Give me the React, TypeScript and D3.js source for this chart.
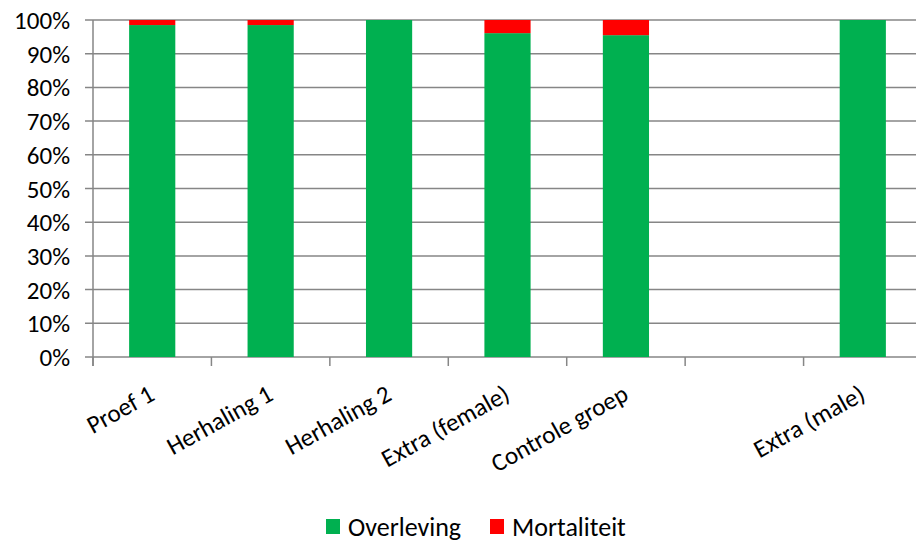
import React from "react";
import * as d3 from "d3";

const categories = ["Proef 1", "Herhaling 1", "Herhaling 2", "Extra (female)", "Controle groep", "", "Extra (male)"];
const overleving = [98.5, 98.5, 100, 96.1, 95.5, 0, 100];
const mortaliteit = [1.5, 1.5, 0, 3.9, 4.5, 0, 0];
const yTicks = [0, 10, 20, 30, 40, 50, 60, 70, 80, 90, 100];

const W = 916;
const H = 542;
const margin = { left: 93, top: 20, right: -6, bottom: 185 };
const FONT = "Carlito, Calibri, Lato, 'Open Sans', sans-serif";
const FS = 25;
const GREEN = "#00b050";
const RED = "#ff0000";
const GRID = "#868686";

export default function App() {
  const x = d3
    .scaleBand<number>()
    .domain(d3.range(categories.length))
    .range([margin.left, W - margin.right])
    .paddingInner(0.61)
    .paddingOuter(0.305);
  const step = (W - margin.right - margin.left) / categories.length;
  const y = d3.scaleLinear().domain([0, 100]).range([H - margin.bottom, margin.top]);

  const series = [
    { name: "Overleving", color: GREEN, values: overleving },
    { name: "Mortaliteit", color: RED, values: mortaliteit },
  ];
  const stacked = categories.map((_, i) => {
    let acc = 0;
    return series.map((s) => {
      const y0 = acc;
      acc += s.values[i];
      return { y0, y1: acc, color: s.color };
    });
  });

  return (
    <svg width={W} height={H} style={{ position: "absolute", left: 0, top: 0 }}>
      <rect width={W} height={H} fill="#fff" />
      {yTicks.map((t) => (
        <g key={t}>
          <line x1={margin.left - 8} x2={W} y1={y(t)} y2={y(t)} stroke={GRID} strokeWidth={1.5} />
          <text
            x={70}
            y={y(t) + 9}
            textAnchor="end"
            fontFamily={FONT}
            fontSize={FS}
            fill="#000"
          >
            {t}%
          </text>
        </g>
      ))}
      <line x1={margin.left} x2={margin.left} y1={y(100)} y2={y(0) + 9} stroke={GRID} strokeWidth={1.5} />
      {d3.range(categories.length + 1).map((i) => (
        <line
          key={i}
          x1={margin.left + step * i}
          x2={margin.left + step * i}
          y1={y(0)}
          y2={y(0) + 9}
          stroke={GRID}
          strokeWidth={1.5}
        />
      ))}
      {stacked.map((segs, i) =>
        segs.map((s, j) =>
          s.y1 > s.y0 ? (
            <rect
              key={`${i}-${j}`}
              x={x(i)}
              width={x.bandwidth()}
              y={y(s.y1)}
              height={y(s.y0) - y(s.y1)}
              fill={s.color}
            />
          ) : null
        )
      )}
      {categories.map((c, i) => (
        <text
          key={i}
          transform={`translate(${(x(i) ?? 0) + x.bandwidth() / 2 + 4},${y(0) + 42}) rotate(-29)`}
          textAnchor="end"
          fontFamily={FONT}
          fontSize={FS}
          fill="#000"
        >
          {c}
        </text>
      ))}
      {series.map((s, i) => {
        const lx = [326, 490][i];
        return (
          <g key={s.name}>
            <rect x={lx} y={519} width={14} height={15} fill={s.color} />
            <text x={lx + 22} y={536} fontFamily={FONT} fontSize={26} fill="#000">
              {s.name}
            </text>
          </g>
        );
      })}
    </svg>
  );
}
